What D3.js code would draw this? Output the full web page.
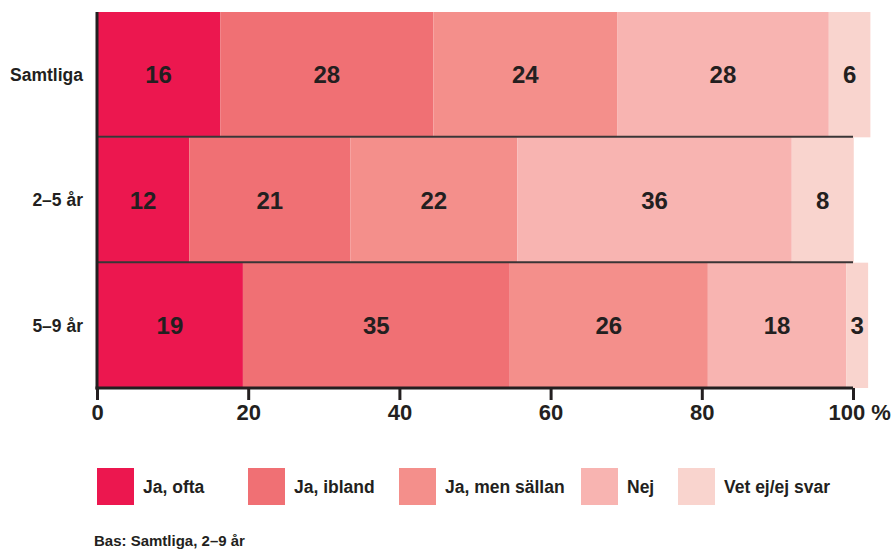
<!DOCTYPE html>
<html lang="sv">
<head>
    <meta charset="UTF-8">
    <title>Chart</title>
    <script src="https://cdn.jsdelivr.net/npm/d3@7"></script>
    <style>
        body { margin: 0; background: #fff; }
        text { font-family: "Liberation Sans", Arial, sans-serif; font-weight: bold; fill: #231f20; }
    </style>
</head>
<body>
    <script>
        const width = 895;
        const height = 549;

        // data (procent, labels are rounded)
        const groups = ['Samtliga', '2–5 år', '5–9 år'];
        const answers = ['Ja, ofta', 'Ja, ibland', 'Ja, men sällan', 'Nej', 'Vet ej/ej svar'];
        const jaOfta = [16.3, 12.2, 19.3];
        const jaIbland = [28.2, 21.3, 35.3];
        const jaSallan = [24.3, 22.1, 26.2];
        const nej = [28.0, 36.3, 18.3];
        const vetEj = [5.5, 8.2, 2.9];
        const xTicks = [0, 20, 40, 60, 80, 100];
        const footnote = 'Bas: Samtliga, 2–9 år';

        const colors = ['#ec174f', '#f07074', '#f48f8b', '#f8b4b1', '#f9d4ce'];
        const legendX = [97, 248, 399, 581, 678];

        const series = [jaOfta, jaIbland, jaSallan, nej, vetEj];
        const rows = groups.map(function(g, i){
            const r = { group: g };
            answers.forEach(function(a, j){ r[a] = series[j][i]; });
            return r;
        });
        const stacked = d3.stack().keys(answers)(rows);

        const margin = { left: 97, right: 42, top: 12, bottom: 161 };
        const x = d3.scaleLinear()
                    .domain([0, 100])
                    .range([margin.left, width - margin.right]);
        const y = d3.scaleBand()
                    .domain(groups)
                    .range([margin.top, height - margin.bottom])
                    .padding(0);
        const color = d3.scaleOrdinal().domain(answers).range(colors);

        const svg = d3.select('body').append('svg')
                      .attr('width', width)
                      .attr('height', height);

        // bars
        const layer = svg.append('g')
                         .selectAll('g')
                         .data(stacked)
                         .enter().append('g')
                         .attr('fill', function(d){ return color(d.key); });

        layer.selectAll('rect')
             .data(function(d){ return d; })
             .enter().append('rect')
             .attr('x', function(d){ return x(d[0]); })
             .attr('y', function(d){ return y(d.data.group); })
             .attr('width', function(d){ return x(d[1]) - x(d[0]); })
             .attr('height', y.bandwidth());

        layer.selectAll('text')
             .data(function(d){ return d; })
             .enter().append('text')
             .attr('x', function(d){ return (x(d[0]) + x(d[1])) / 2; })
             .attr('y', function(d){ return y(d.data.group) + y.bandwidth() / 2; })
             .attr('text-anchor', 'middle')
             .attr('dy', '0.36em')
             .style('font-size', '24px')
             .text(function(d){ return Math.round(d[1] - d[0]); });

        // row separators
        svg.append('g')
           .selectAll('line')
           .data(groups.slice(1))
           .enter().append('line')
           .attr('x1', x(0))
           .attr('x2', x(100))
           .attr('y1', function(d){ return y(d) - 0.5; })
           .attr('y2', function(d){ return y(d) - 0.5; })
           .attr('stroke', '#3a3536')
           .attr('stroke-width', 2);

        // y labels
        svg.append('g')
           .selectAll('text')
           .data(groups)
           .enter().append('text')
           .attr('x', 83)
           .attr('y', function(d){ return y(d) + y.bandwidth() / 2; })
           .attr('dy', '0.36em')
           .attr('text-anchor', 'end')
           .style('font-size', '17.5px')
           .text(function(d){ return d; });

        // axes
        const yBottom = height - margin.bottom;
        svg.append('line')
           .attr('x1', x(0)).attr('x2', x(0))
           .attr('y1', margin.top).attr('y2', yBottom + 1.5)
           .attr('stroke', '#231f20')
           .attr('stroke-width', 3);

        const xAxis = svg.append('g')
                         .attr('transform', 'translate(0,' + yBottom + ')')
                         .call(d3.axisBottom(x)
                                 .tickValues(xTicks)
                                 .tickSize(12)
                                 .tickFormat(function(d){ return d === 100 ? '100 %' : d; }));
        xAxis.select('.domain')
             .attr('stroke', '#231f20')
             .attr('stroke-width', 3)
             .attr('d', 'M' + (x(0) - 1.5) + ',0H' + x(100));
        xAxis.selectAll('.tick line')
             .attr('stroke', '#231f20')
             .attr('stroke-width', 3);
        xAxis.selectAll('.tick text')
             .attr('y', 16)
             .attr('fill', '#231f20')
             .style('font-family', '"Liberation Sans", Arial, sans-serif')
             .style('font-weight', 'bold')
             .style('font-size', '22px');
        xAxis.selectAll('.tick text')
             .filter(function(d){ return d === 100; })
             .attr('text-anchor', 'start')
             .attr('x', -25);

        // legend
        const legend = svg.append('g')
                          .selectAll('g')
                          .data(answers)
                          .enter().append('g')
                          .attr('transform', function(d, i){ return 'translate(' + legendX[i] + ',468)'; });
        legend.append('rect')
              .attr('width', 37)
              .attr('height', 37)
              .attr('fill', function(d){ return color(d); });
        legend.append('text')
              .attr('x', 46)
              .attr('y', 19)
              .attr('dy', '0.36em')
              .style('font-size', '17.5px')
              .text(function(d){ return d; });

        svg.append('text')
           .attr('x', 94)
           .attr('y', 546)
           .style('font-size', '15px')
           .text(footnote);
    </script>
</body>
</html>
